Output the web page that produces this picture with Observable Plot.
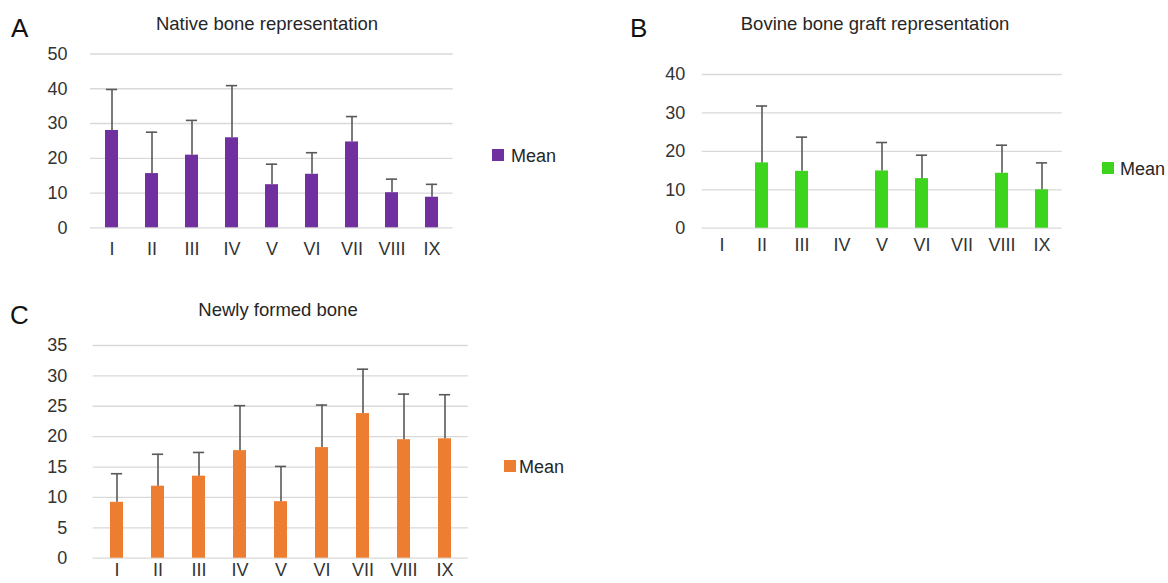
<!DOCTYPE html>
<html>
<head>
<meta charset="utf-8">
<script src="https://cdn.jsdelivr.net/npm/d3@7"></script>
<script src="https://cdn.jsdelivr.net/npm/@observablehq/plot@0.6"></script>
<style>
  html, body { margin: 0; padding: 0; background: #fff; overflow: hidden; }
  #root { position: relative; width: 1168px; height: 583px; overflow: hidden;
          font-family: "Liberation Sans", Arial, Helvetica, sans-serif; color: #262626; }
  .abs { position: absolute; line-height: 1; white-space: nowrap; }
  .letter { font-size: 26px; color: #111; }
  .title { font-size: 18.5px; transform: translateX(-50%); }
  .sw { position: absolute; width: 12px; height: 12px; }
  .lg { font-size: 18px; }
</style>
</head>
<body>
<div id="root"></div>
<script>
// ---- data ----
const categories = ["I", "II", "III", "IV", "V", "VI", "VII", "VIII", "IX"];

const titleA = "Native bone representation";
const meanA = [28.0, 15.6, 20.9, 25.9, 12.4, 15.4, 24.7, 10.1, 8.8];
const sdA   = [11.8, 11.9, 10.0, 15.0, 5.9, 6.2, 7.3, 3.9, 3.7];
const ticksA = [0, 10, 20, 30, 40, 50];

const titleB = "Bovine bone graft representation";
const meanB = [null, 17.0, 14.8, null, 14.9, 12.9, null, 14.3, 10.0];
const sdB   = [null, 14.8, 8.9, null, 7.4, 6.1, null, 7.3, 7.0];
const ticksB = [0, 10, 20, 30, 40];

const titleC = "Newly formed bone";
const meanC = [9.2, 11.85, 13.5, 17.7, 9.3, 18.2, 23.8, 19.5, 19.65];
const sdC   = [4.7, 5.25, 3.9, 7.4, 5.8, 7.0, 7.3, 7.5, 7.25];
const ticksC = [0, 5, 10, 15, 20, 25, 30, 35];

const seriesName = "Mean";
const colorA = "#7030A0", colorB = "#3DD41E", colorC = "#ED7D31";

// ---- drawing ----
const root = document.getElementById("root");

function panel(o) {
  const data = categories.map((c, i) => ({cat: c, mean: o.mean[i], sd: o.sd[i]}))
    .filter(d => d.mean != null);
  const svg = Plot.plot({
    width: o.width, height: o.height,
    marginLeft: o.ml, marginRight: o.mr, marginTop: o.mt, marginBottom: o.mb,
    style: {fontFamily: "'Liberation Sans', Arial, Helvetica, sans-serif", fontSize: "18px",
            color: "#333", background: "transparent", overflow: "visible"},
    x: {domain: categories, paddingInner: 0.686, paddingOuter: 0.343, label: null},
    y: {domain: [0, o.ticks[o.ticks.length - 1]], label: null},
    marks: [
      Plot.ruleY(o.ticks, {stroke: "#d9d9d9", strokeWidth: 1.3}),
      Plot.axisY({ticks: o.ticks, tickSize: 0, tickPadding: o.yPad, label: null}),
      Plot.axisX({tickSize: 0, tickPadding: o.xPad, label: null}),
      Plot.barY(data, {x: "cat", y: "mean", fill: o.color}),
      Plot.ruleX(data, {x: "cat", y1: "mean", y2: d => d.mean + d.sd, stroke: "#595959", strokeWidth: 1.6}),
      Plot.tickY(data, {x: "cat", y: d => d.mean + d.sd, stroke: "#595959", strokeWidth: 1.6,
                        insetLeft: 0.9, insetRight: 0.9})
    ]
  });
  svg.style.position = "absolute";
  svg.style.left = o.left + "px";
  svg.style.top = o.top + "px";
  root.appendChild(svg);
}

function text(str, cls, left, top) {
  const d = document.createElement("div");
  d.className = "abs " + cls;
  d.textContent = str;
  d.style.left = left + "px";
  d.style.top = top + "px";
  root.appendChild(d);
}
function swatch(color, left, top) {
  const d = document.createElement("div");
  d.className = "sw";
  d.style.background = color;
  d.style.left = left + "px";
  d.style.top = top + "px";
  root.appendChild(d);
}

panel({mean: meanA, sd: sdA, ticks: ticksA, color: colorA,
       left: 0, top: 0, width: 470, height: 265, ml: 90, mr: 17.3, mt: 53.5, mb: 37.7, yPad: 23, xPad: 14});
panel({mean: meanB, sd: sdB, ticks: ticksB, color: colorB,
       left: 620, top: 0, width: 450, height: 265, ml: 81.7, mr: 8.3, mt: 74, mb: 37.3, yPad: 17, xPad: 10});
panel({mean: meanC, sd: sdC, ticks: ticksC, color: colorC,
       left: 0, top: 290, width: 480, height: 293, ml: 92.7, mr: 12.3, mt: 55, mb: 25.3, yPad: 26, xPad: 5});

text("A", "letter", 11, 15);
text("B", "letter", 630, 15);
text("C", "letter", 10, 302);

text(titleA, "title", 267, 15);
text(titleB, "title", 875, 15);
text(titleC, "title", 278, 301);

swatch(colorA, 492, 149);  text(seriesName, "lg", 511, 147);
swatch(colorB, 1102, 162); text(seriesName, "lg", 1120, 159.5);
swatch(colorC, 504, 460);  text(seriesName, "lg", 519, 458);
</script>
</body>
</html>
